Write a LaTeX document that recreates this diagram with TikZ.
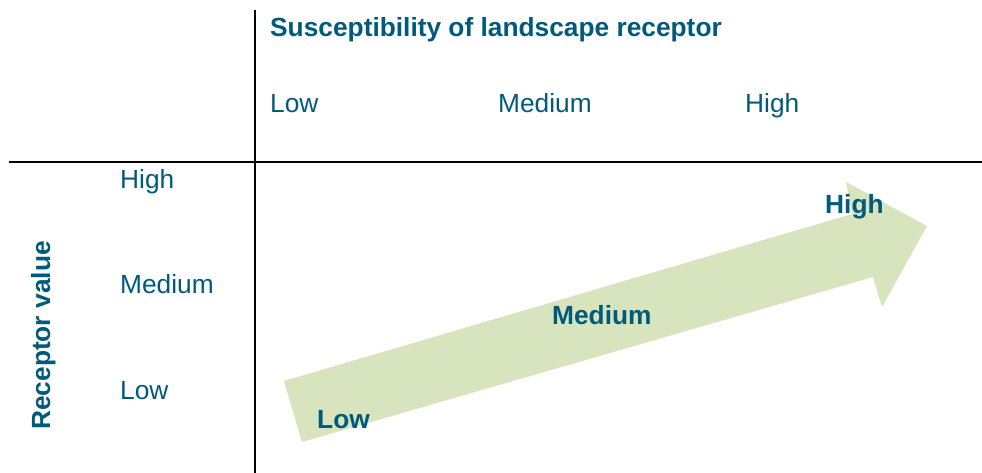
\documentclass[tikz,border=0pt]{standalone}
\usepackage{fontspec}
\setmainfont{Liberation Sans}
\definecolor{labelblue}{HTML}{005A7C}
\definecolor{arrowgreen}{HTML}{D8E4BD}
\begin{document}
\begin{tikzpicture}[x=1pt,y=-1pt,
  lbl/.style={text=labelblue,inner sep=0pt,anchor=base west,font=\fontsize{26.3}{30}\selectfont},
  boldlbl/.style={lbl,font=\fontsize{26.3}{30}\selectfont\bfseries},
  rule/.style={line width=2pt,black}]
\useasboundingbox (0,0) rectangle (982,473);

% axes dividing the header row and column
\coordinate (hl) at (9,162);
\coordinate (hr) at (982,162);
\coordinate (vt) at (255,10);
\coordinate (vb) at (255,473);
\draw[rule] (hl) -- (hr);
\draw[rule] (vt) -- (vb);

% broad rising arrow
\fill[arrowgreen] (284,381) -- (852,214) -- (846,182) -- (927,226)
  -- (882,307) -- (873,277) -- (302,442) -- cycle;

% header labels
\node[boldlbl] (title) at (270,37) {Susceptibility of landscape receptor};
\node[lbl] (sLow) at (270,113) {Low};
\node[lbl] (sMed) at (498,113) {Medium};
\node[lbl] (sHigh) at (745,113) {High};

% side labels
\node[boldlbl,rotate=90] (rv) at (50,430) {Receptor value};
\node[lbl] (rHigh) at (120,189) {High};
\node[lbl] (rMed) at (120,293) {Medium};
\node[lbl] (rLow) at (120,399) {Low};

% labels along the arrow
\node[boldlbl] (aLow) at (317,428) {Low};
\node[boldlbl] (aMed) at (552,324) {Medium};
\node[boldlbl] (aHigh) at (825,213) {High};
\end{tikzpicture}
\end{document}
